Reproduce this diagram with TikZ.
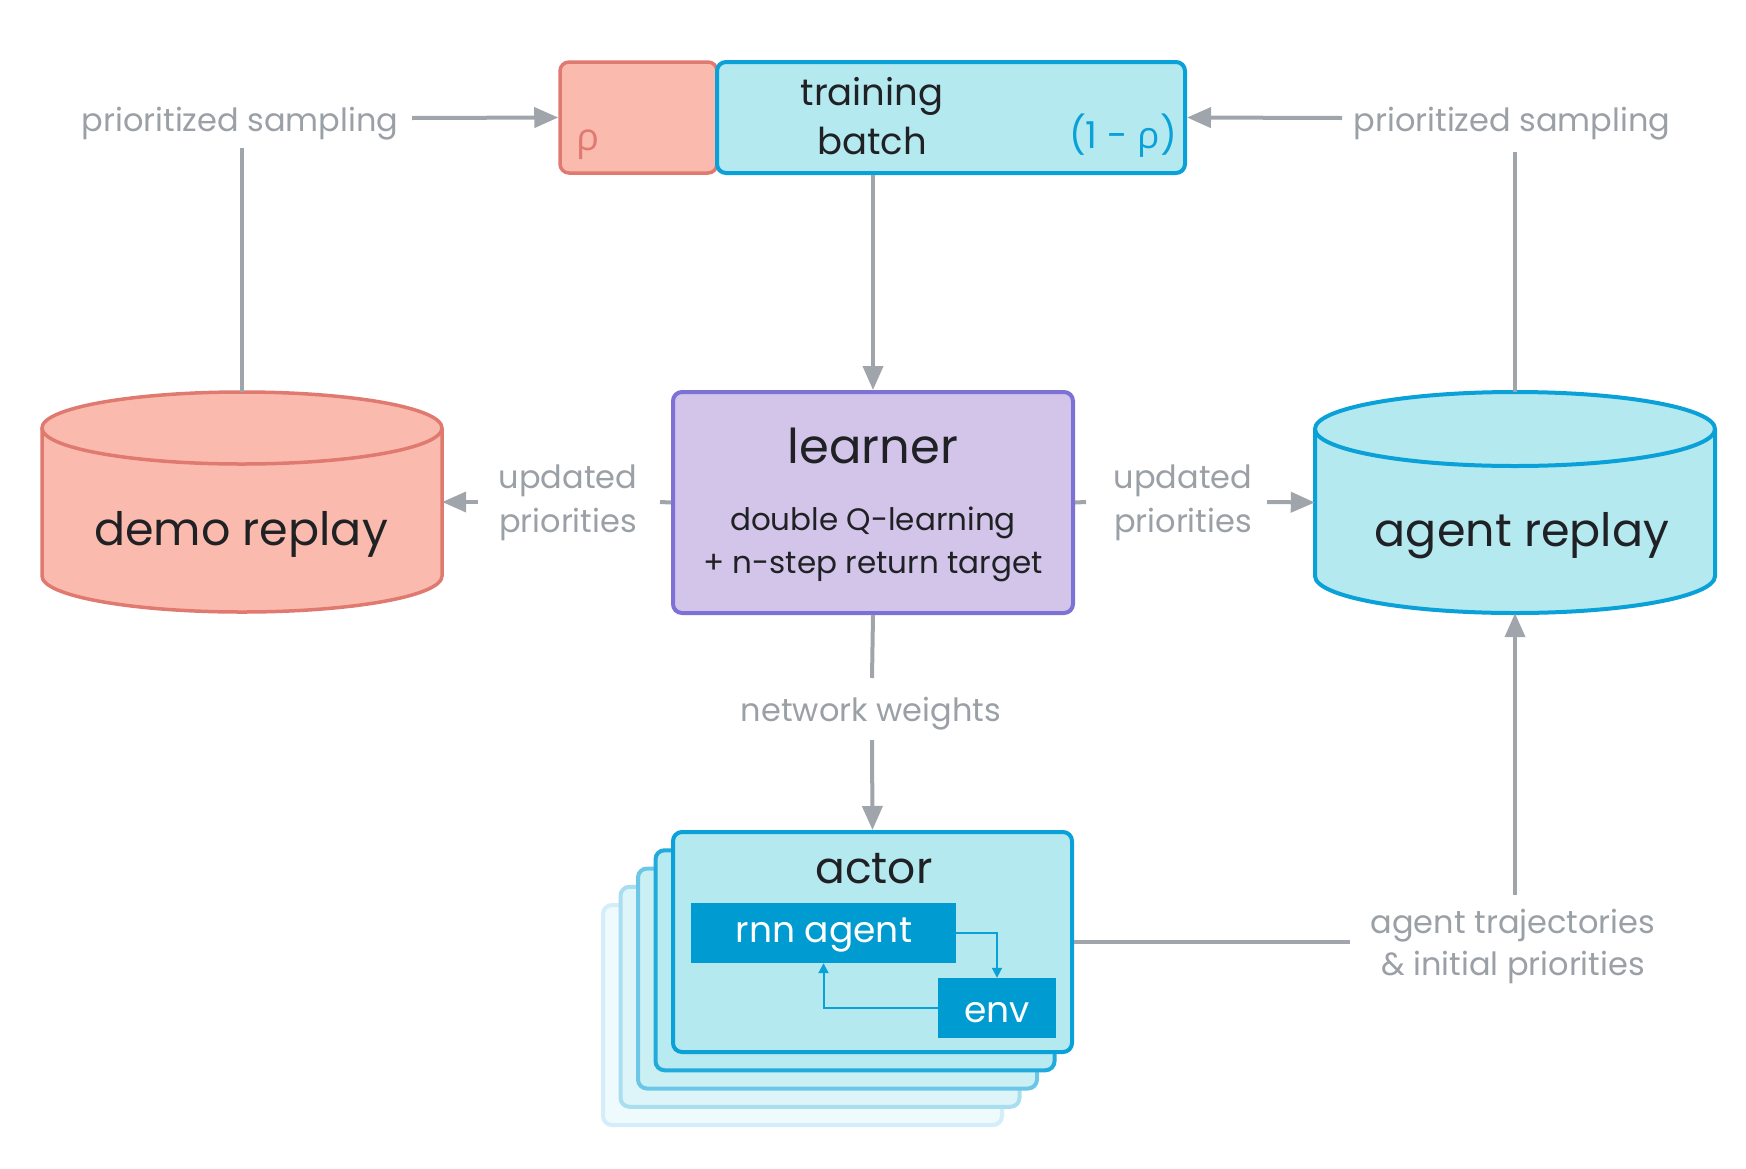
\documentclass[tikz,border=0pt]{standalone}
\usepackage{fontspec}
\setmainfont{Poppins}
\newfontfamily\greekfont{Open Sans}
\usetikzlibrary{arrows.meta}
\definecolor{pinkfill}{HTML}{FABBAE}
\definecolor{pinkline}{HTML}{E07A70}
\definecolor{cyanfill}{HTML}{B4E9F0}
\definecolor{cyanline}{HTML}{0AA0D8}
\definecolor{lilacfill}{HTML}{D3C5E9}
\definecolor{lilacline}{HTML}{7C72D6}
\definecolor{blueblock}{HTML}{009BD1}
\definecolor{graytxt}{HTML}{9AA0A6}
\definecolor{grayline}{HTML}{A0A4AB}
\definecolor{ink}{HTML}{202124}
\tikzset{
  conn/.style={draw=grayline, line width=4pt},
  arr/.style={conn, -{Triangle[length=24pt,width=20pt]}},
  innerarr/.style={draw=cyanline, line width=2pt, -{Triangle[length=10pt,width=10pt]}},
  glabel/.style={text=graytxt, font=\fontsize{32}{40}\selectfont, inner sep=0pt, anchor=base},
  bigtxt/.style={text=ink, inner sep=0pt, anchor=base},
  actorbox/.style={line width=4pt, rounded corners=9pt, minimum width=399pt, minimum height=220pt},
  blockbox/.style={fill=blueblock, inner sep=0pt},
}
\begin{document}
\begin{tikzpicture}[x=1pt, y=-1pt]
\useasboundingbox (0,0) rectangle (1746,1168);
% ---- top batch
\node[draw=pinkline, fill=pinkfill, line width=3.5pt, rounded corners=9pt, minimum width=157pt, minimum height=111pt] (rho) at (638.5,117.5) {};
\node[draw=cyanline, fill=cyanfill, line width=4pt, rounded corners=9pt, minimum width=468pt, minimum height=111pt] (batch) at (951,117.5) {};
\node[bigtxt, text=pinkline, font=\greekfont\fontsize{38}{40}\selectfont] (rhotxt) at (588,150) {ρ};
\node[bigtxt, font=\fontsize{37}{40}\selectfont] (trainingtxt) at (872,105) {training};
\node[bigtxt, font=\fontsize{37}{40}\selectfont] (batchtxt) at (872,154) {batch};
\node[bigtxt, text=cyanline, font=\fontsize{37}{40}\selectfont] (onemrho) at (1123,148) {(1 - {\greekfont ρ})};
% ---- learner
\node[draw=lilacline, fill=lilacfill, line width=4pt, rounded corners=9pt, minimum width=400pt, minimum height=221pt] (learner) at (873,502.5) {};
\node[bigtxt, font=\fontsize{48}{50}\selectfont] (learnertxt) at (873,463) {learner};
\node[bigtxt, font=\fontsize{31}{40}\selectfont] (dq) at (873,530) {double Q-learning};
\node[bigtxt, font=\fontsize{31}{40}\selectfont] (ns) at (873,573) {+ n-step return target};
% ---- demo replay cylinder
\fill[pinkfill] (42,428) -- (42,576) arc[start angle=180,end angle=360,x radius=200pt,y radius=36pt] -- (442,428) -- cycle;
\draw[pinkline, line width=3.5pt] (42,428) -- (42,576) arc[start angle=180,end angle=360,x radius=200pt,y radius=36pt] -- (442,428);
\filldraw[fill=pinkfill, draw=pinkline, line width=3.5pt] (242,428) ellipse[x radius=200pt, y radius=36pt];
\node[minimum width=400pt, minimum height=220pt, inner sep=0pt] (demo) at (242,502) {};
\node[bigtxt, font=\fontsize{46}{50}\selectfont] (demotxt) at (241,545) {demo replay};
% ---- agent replay cylinder
\fill[cyanfill] (1315,429) -- (1315,576) arc[start angle=180,end angle=360,x radius=200pt,y radius=37pt] -- (1715,429) -- cycle;
\draw[cyanline, line width=4pt] (1315,429) -- (1315,576) arc[start angle=180,end angle=360,x radius=200pt,y radius=37pt] -- (1715,429);
\filldraw[fill=cyanfill, draw=cyanline, line width=4pt] (1515,429) ellipse[x radius=200pt, y radius=37pt];
\node[minimum width=400pt, minimum height=221pt, inner sep=0pt] (agent) at (1515,502.5) {};
\node[bigtxt, font=\fontsize{46}{50}\selectfont] (agenttxt) at (1522,546) {agent replay};
% ---- actor stack
\node[actorbox, draw=cyanline!18!white, fill=cyanfill!22!white] (actor4) at (802.5,1015) {};
\node[actorbox, draw=cyanline!35!white, fill=cyanfill!45!white] (actor3) at (820,996.75) {};
\node[actorbox, draw=cyanline!60!white, fill=cyanfill!70!white] (actor2) at (837.5,978.5) {};
\node[actorbox, draw=cyanline!90!white, fill=cyanfill!95!white] (actor1) at (855,960.25) {};
\node[actorbox, draw=cyanline, fill=cyanfill] (actor) at (872.5,942) {};
\node[bigtxt, font=\fontsize{44}{48}\selectfont] (actortxt) at (874,883) {actor};
\node[blockbox, minimum width=265pt, minimum height=60pt] (rnn) at (823.5,933) {};
\node[bigtxt, text=white, font=\fontsize{36}{40}\selectfont] (rnntxt) at (824,942) {rnn agent};
\node[blockbox, minimum width=118pt, minimum height=60pt] (env) at (997,1008) {};
\node[bigtxt, text=white, font=\fontsize{36}{40}\selectfont] (envtxt) at (997,1022) {env};
\draw[innerarr] (rnn.east) -| (env.north);
\draw[innerarr] (env.west) -| (rnn.south);
% ---- labels
\node[glabel] (psl) at (240,131) {prioritized sampling};
\node[glabel] (psr) at (1512,131) {prioritized sampling};
\node[glabel] (upl1) at (568,488) {updated};
\node[glabel] (upl2) at (568,532) {priorities};
\node[glabel] (upr1) at (1183,488) {updated};
\node[glabel] (upr2) at (1183,532) {priorities};
\node[glabel] (nw) at (871,721) {network weights};
\node[glabel] (tr1) at (1513,933) {agent trajectories};
\node[glabel] (tr2) at (1513,975) {\& initial priorities};
% ---- connector break points
\coordinate (pslS) at (242,148);
\coordinate (pslE) at (412,118);
\coordinate (psrS) at (1515,152);
\coordinate (psrW) at (1342,118);
\coordinate (uplR) at (660,502);
\coordinate (uplL) at (478,502);
\coordinate (uprL) at (1086,502);
\coordinate (uprR) at (1267,502);
\coordinate (nwT) at (872,678);
\coordinate (nwB) at (872,740);
\coordinate (trW) at (1350,942);
\coordinate (trN) at (1515,895);
% ---- connectors
\draw[conn] (demo.north) -- (pslS);
\draw[arr] (pslE) -- (rho.west);
\draw[conn] (agent.north) -- (psrS);
\draw[arr] (psrW) -- (batch.east);
\draw[arr] (learner.north |- batch.south) -- (learner.north);
\draw[conn] (learner.west) -- (uplR);
\draw[arr] (uplL) -- (demo.east);
\draw[conn] (learner.east) -- (uprL);
\draw[arr] (uprR) -- (agent.west);
\draw[conn] (learner.south) -- (nwT);
\draw[arr] (nwB) -- (actor.north);
\draw[conn] (actor.east) -- (trW);
\draw[arr] (trN) -- (agent.south);
\end{tikzpicture}
\end{document}
